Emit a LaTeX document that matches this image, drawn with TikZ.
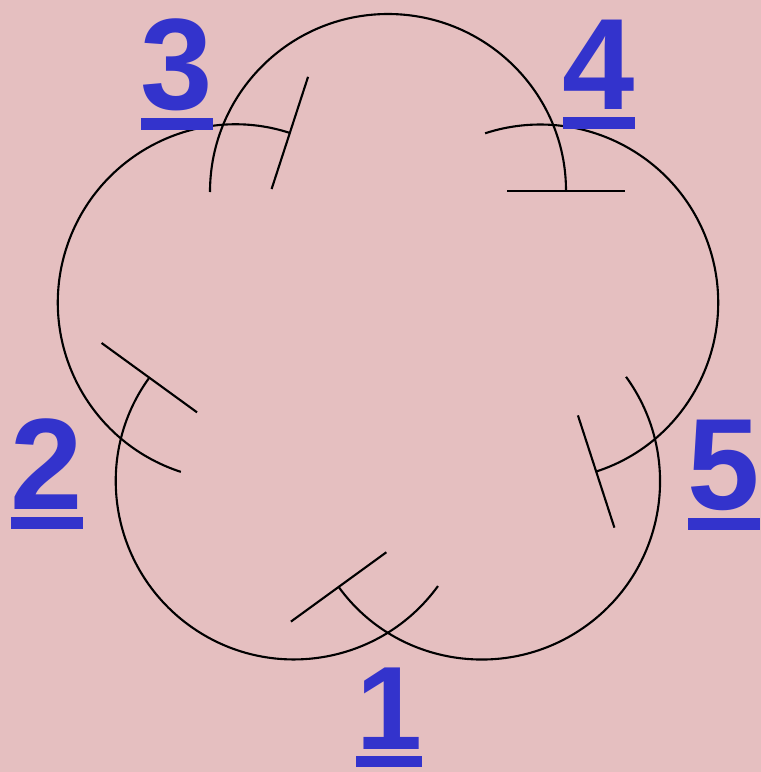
\documentclass[tikz,border=0pt]{standalone}
\usepackage{fontspec}
\setmainfont{Liberation Sans}
\usepackage{tikz}
\usetikzlibrary{arrows.meta,positioning}

\definecolor{bgpink}{RGB}{229,191,192}
\definecolor{numblue}{RGB}{51,51,204}
% underlined number with a thick rule as wide as the digit
\newcommand{\unum}[1]{\vtop{\hbox{#1}\kern0.06em\hrule height0.09em}}

\begin{document}
\begin{tikzpicture}[
    x=0.02cm, y=0.02cm,
    petal/.style={line width=1.2pt, -{Bar[width=2.36cm]}},
    num/.style={anchor=base, inner sep=0pt, text=numblue, font=\fontsize{74}{80}\selectfont\bfseries},
    smallnum/.style={num, font=\fontsize{67.5}{72}\selectfont\bfseries}
]
\fill[bgpink] (-388,-420) rectangle (373,352);
\useasboundingbox (-388,-420) rectangle (373,352);

% circle centres on a pentagon
\coordinate (T)  at (90:160);
\coordinate (L)  at (162:160);
\coordinate (BL) at (234:160);
\coordinate (BR) at (306:160);
\coordinate (R)  at (18:160);

\draw[petal] ([shift={(180:178)}]T) arc[start angle=180, end angle=0, radius=178];
\draw[petal] ([shift={(252:178)}]L) arc[start angle=252, end angle=72, radius=178];
\draw[petal] ([shift={(324:178)}]BL) arc[start angle=324, end angle=144, radius=178];
\draw[petal] ([shift={(36:178)}]BR) arc[start angle=396, end angle=216, radius=178];
\draw[petal] ([shift={(108:178)}]R) arc[start angle=108, end angle=-72, radius=178];

\node[smallnum] (n1) at (1,-397) {\unum{1}};
\node[num] (n2) at (-341,-157) {\unum{2}};
\node[num] (n3) at (-211,243) {\unum{3}};
\node[num] (n4) at (211,243) {\unum{4}};
\node[num] (n5) at (336,-157) {\unum{5}};
\end{tikzpicture}
\end{document}
